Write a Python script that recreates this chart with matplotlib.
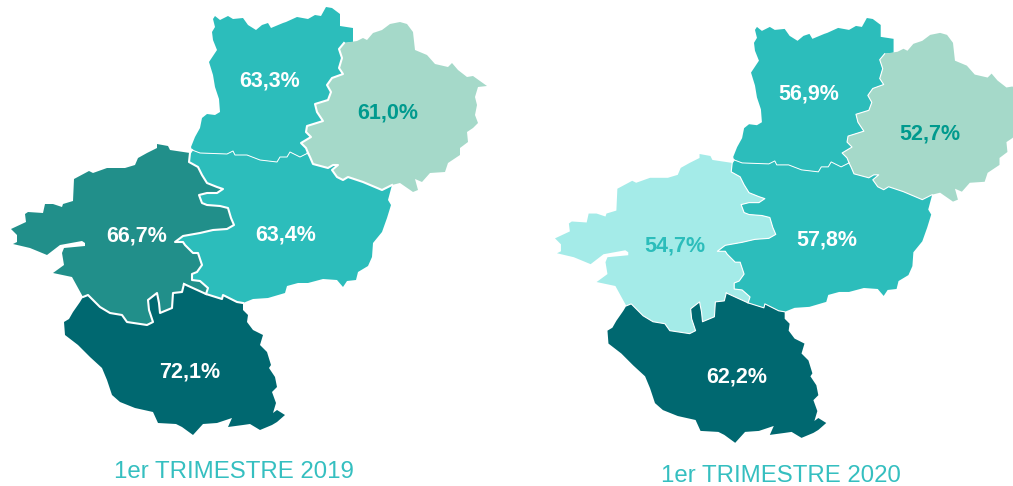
from __future__ import annotations

import matplotlib

matplotlib.use("Agg")
import matplotlib.pyplot as plt

plt.rcParams["font.family"] = ["Liberation Sans", "DejaVu Sans"]

DEPARTMENTS = ["Mayenne", "Sarthe", "Maine-et-Loire", "Loire-Atlantique", "Vendee"]
VALUES_2019 = [63.3, 61.0, 63.4, 66.7, 72.1]
VALUES_2020 = [56.9, 52.7, 57.8, 54.7, 62.2]
TITLES = ["1er TRIMESTRE 2019", "1er TRIMESTRE 2020"]

# outlines, shared borders kept apart so both sides match
MAY_OUTER = [
    (192, 150), (191, 147), (195, 137), (200, 128), (202, 118), (207, 114), (215, 115), (220, 112),
    (219, 99), (215, 87), (213, 75), (209, 62), (217, 50), (213, 40), (212, 32), (215, 27),
    (213, 19), (215, 16), (220, 20), (228, 16), (233, 19), (243, 18), (248, 25), (256, 30),
    (262, 25), (268, 23), (271, 28), (283, 23), (286, 22), (297, 17), (308, 19), (315, 15),
    (321, 16), (326, 7), (332, 8), (340, 14), (340, 26), (353, 28), (353, 42),
]
MAY_SAR = [
    (344, 43), (339, 49), (342, 58), (339, 68), (343, 74), (332, 78), (327, 85), (331, 92),
    (328, 100), (315, 104), (317, 112), (323, 121), (307, 126), (306, 132), (311, 137),
    (301, 143), (306, 148), (308, 153),
]
MAY_MAI = [
    (308, 153), (300, 157), (290, 152), (287, 157), (280, 157), (277, 162), (260, 160), (247, 155),
    (235, 155), (233, 151), (227, 154), (200, 153), (192, 150),
]
SAR_OUTER = [
    (392, 185), (400, 183), (413, 192), (418, 190), (415, 179), (422, 182), (430, 173), (445, 172),
    (448, 163), (460, 155), (460, 148), (468, 142), (467, 132), (473, 128), (478, 123), (475, 115),
    (477, 105), (475, 97), (478, 87), (487, 86), (473, 76), (467, 77), (458, 70), (452, 63),
    (448, 67), (435, 64), (427, 55), (415, 50), (413, 32), (407, 24), (400, 22), (390, 24),
    (382, 30), (373, 33), (367, 40), (363, 38), (357, 41), (344, 43),
]
SAR_MAI = [
    (308, 153), (310, 157), (313, 164), (328, 168), (333, 165), (338, 165), (332, 170), (337, 177),
    (343, 180), (348, 177), (363, 182), (382, 190), (392, 185),
]
MAI_OUTER = [
    (392, 185), (388, 200), (391, 205), (387, 218), (382, 232), (373, 243), (372, 257), (368, 266),
    (358, 272), (356, 280), (347, 281), (343, 287), (337, 280), (323, 279), (308, 283), (298, 283),
    (287, 286), (285, 293), (268, 298), (253, 299), (243, 303),
]
MAI_VEN = [(243, 303), (237, 302), (223, 295), (222, 299), (206, 294), (184, 284)]
LA_VEN = [
    (184, 284), (182, 292), (173, 293), (172, 308), (160, 313), (159, 303), (157, 293), (148, 300),
    (149, 310), (153, 322), (147, 325), (127, 322), (122, 315), (110, 313), (100, 307), (88, 295),
    (83, 297),
]
LA_MAI = [
    (206, 294), (208, 288), (200, 281), (192, 280), (192, 274), (197, 272), (202, 265), (198, 253),
    (193, 253), (185, 245), (183, 242), (175, 242), (183, 236), (200, 233), (213, 230), (227, 229),
    (234, 225), (231, 218), (228, 208), (220, 206), (207, 205), (202, 203), (199, 195), (207, 193),
    (217, 193), (223, 189), (217, 187), (207, 183), (202, 175), (198, 167), (189, 162), (190, 153),
    (192, 150),
]
LA_OUTER = [
    (190, 153), (170, 150), (168, 146), (157, 144), (157, 148), (147, 153), (138, 158), (135, 165),
    (125, 168), (107, 168), (93, 173), (89, 171), (74, 179), (73, 201), (63, 204), (62, 207),
    (53, 204), (45, 204), (43, 213), (28, 212), (25, 214), (26, 222), (11, 229), (17, 235),
    (17, 242), (13, 244), (30, 248), (47, 255), (60, 245), (82, 241), (85, 243), (85, 246),
    (64, 248), (62, 253), (64, 265), (53, 273), (72, 277), (83, 297),
]
VEN_OUTER = [
    (83, 297), (80, 302), (73, 312), (69, 319), (64, 322), (65, 335), (78, 345), (90, 357),
    (102, 368), (107, 380), (112, 395), (120, 402), (135, 408), (153, 412), (158, 423), (176, 424),
    (182, 427), (193, 435), (203, 424), (217, 423), (232, 418), (228, 427), (243, 425), (250, 424),
    (260, 430), (272, 425), (277, 422), (285, 415), (277, 410), (273, 413), (276, 403), (272, 392),
    (277, 387), (275, 377), (269, 368), (271, 365), (267, 352), (260, 345), (263, 335), (253, 330),
    (247, 322), (248, 315), (243, 310), (243, 303),
]

MAYENNE = MAY_OUTER + MAY_SAR + MAY_MAI
SARTHE = MAY_SAR + SAR_MAI + SAR_OUTER
MAINE = MAY_MAI[::-1] + SAR_MAI + MAI_OUTER + MAI_VEN + LA_MAI
LOIRE_ATL = LA_OUTER + LA_VEN[::-1] + MAI_VEN[-1:] + LA_MAI
VENDEE = VEN_OUTER + MAI_VEN + LA_VEN
OUTLINES = [MAYENNE, SARTHE, MAINE, LOIRE_ATL, VENDEE]

COLORS_2019 = ["#2CBDBB", "#A5D9C9", "#2CBDBB", "#218F8A", "#006870"]
COLORS_2020 = ["#2CBDBB", "#A5D9C9", "#2CBDBB", "#A4EBE8", "#006870"]
TEXT_2019 = ["white", "#009A8E", "white", "white", "white"]
TEXT_2020 = ["white", "#009A8E", "white", "#2CBDBB", "white"]

LABEL_POS_2019 = [(270, 81), (388, 113), (286, 235), (137, 236), (190, 372)]
LABEL_POS_2020 = [(809, 94), (930, 134), (827, 240), (675, 246), (737, 377)]


def shift_2020(points):
    # second map is the same shape, a touch smaller and moved right
    return [(555 + (x - 11) * 0.99, 18 + (y - 7) * 0.9926) for x, y in points]


def draw_map(axis, colors, text_colors, values, label_pos, place, thick):
    for outline, color in zip(OUTLINES, colors, strict=True):
        xs, ys = zip(*place(outline))
        axis.fill(xs, ys, color=color, linewidth=0, zorder=1)
    for border in [LA_VEN, MAI_VEN, LA_MAI, MAY_SAR, SAR_MAI]:
        xs, ys = zip(*place(border))
        axis.plot(xs, ys, color="white", lw=thick, zorder=2, solid_joinstyle="round")
    xs, ys = zip(*place(MAY_MAI))
    axis.plot(xs, ys, color="white", lw=0.7, zorder=2)
    for value, color, (x, y) in zip(values, text_colors, label_pos, strict=True):
        label = f"{value:.1f}%".replace(".", ",")
        axis.text(x, y, label, color=color, fontsize=15.5, fontweight="bold",
                  ha="center", va="center", zorder=3)


fig = plt.figure(figsize=(10.13, 4.86), dpi=100)
ax = fig.add_axes([0, 0, 1, 1])
ax.set_xlim(0, 1013)
ax.set_ylim(486, 0)
ax.axis("off")

draw_map(ax, COLORS_2019, TEXT_2019, VALUES_2019, LABEL_POS_2019, lambda p: p, 1.5)
draw_map(ax, COLORS_2020, TEXT_2020, VALUES_2020, LABEL_POS_2020, shift_2020, 0.8)

ax.text(234, 472, TITLES[0], color="#35BFC0", fontsize=17.3, ha="center", va="center")
ax.text(781, 476, TITLES[1], color="#35BFC0", fontsize=17.3, ha="center", va="center")

fig.savefig("out.png", dpi=100)
